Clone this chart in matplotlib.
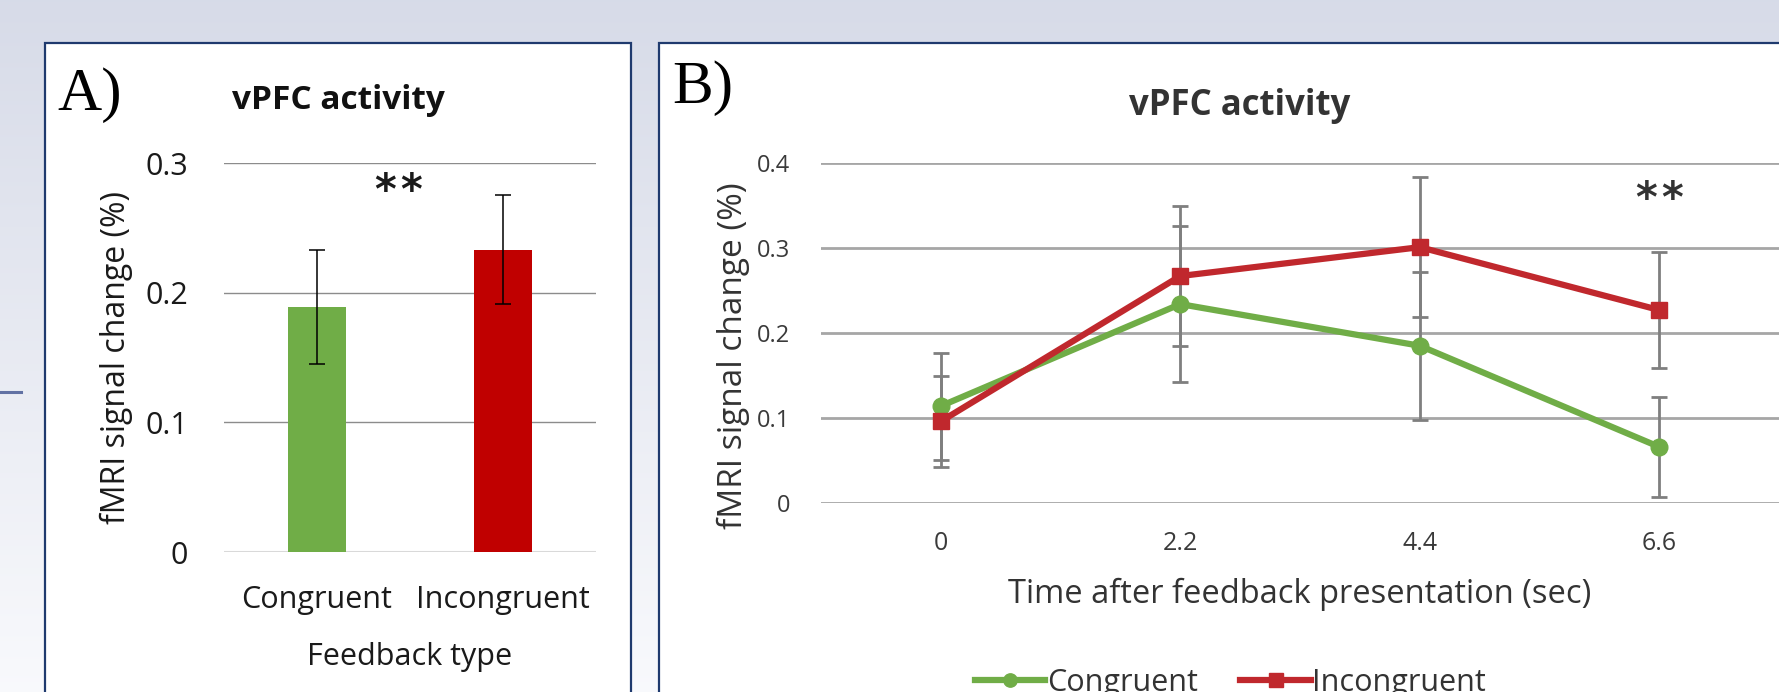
import numpy as np
import matplotlib
matplotlib.use("Agg")
from matplotlib import pyplot as plt
from matplotlib.patches import Rectangle
from matplotlib.lines import Line2D

W, H = 1779, 692

# panel A: bar chart
categories_a = ['Congruent', 'Incongruent']
values_a = [0.189, 0.233]
errors_a = [0.044, 0.042]

# panel B: time course
times = [0, 2.2, 4.4, 6.6]
time_labels = ['0', '2.2', '4.4', '6.6']
congruent = [0.114, 0.234, 0.185, 0.066]
congruent_err = [0.063, 0.092, 0.087, 0.059]
incongruent = [0.096, 0.267, 0.301, 0.227]
incongruent_err = [0.054, 0.082, 0.082, 0.068]

GREEN = '#70ad47'
RED_BAR = '#c00000'
RED_LINE = '#c0282d'
NAVY = '#1f3a6e'

plt.rcParams['font.family'] = ['Open Sans', 'DejaVu Sans']


def rect(x0, y0, x1, y1):
    # pixel box (top-left origin) -> figure fraction
    return [x0 / W, 1 - y1 / H, (x1 - x0) / W, (y1 - y0) / H]


def fx(x):
    return x / W


def fy(y):
    return 1 - y / H


def stars(ax, x, y, color):
    # two asterisks with a small gap, centred on (x, y)
    for dx in (-9.5, 9.5):
        ax.annotate('*', xy=(x, y), xytext=(dx, 0), textcoords='offset points',
                    ha='center', va='center', fontsize=30, family='DejaVu Sans',
                    fontweight='bold', color=color, annotation_clip=False)


fig = plt.figure(figsize=(W / 100, H / 100), dpi=100)

# background gradient
bg = fig.add_axes([0, 0, 1, 1], zorder=-10)
top = np.array([0.843, 0.859, 0.910])
bot = np.array([0.975, 0.978, 0.990])
t = np.linspace(0, 1, 256)[:, None, None]
grad = top * (1 - t) + bot * t
grad = np.repeat(grad, 4, axis=1)
bg.imshow(grad, aspect='auto', extent=[0, 1, 0, 1])
bg.set_axis_off()

# panel frames
for x0, x1 in [(45, 631), (659, 1800)]:
    fig.patches.append(Rectangle((fx(x0), fy(720)), fx(x1) - fx(x0), fy(43) - fy(720),
                                 transform=fig.transFigure, facecolor='white',
                                 edgecolor=NAVY, linewidth=1.6, zorder=-5))
fig.lines.append(Line2D([0, fx(21)], [fy(392), fy(392)], transform=fig.transFigure,
                        color='#6171a3', linewidth=2.2, zorder=-4))

# ---- panel A ----
axa = fig.add_axes(rect(224, 163, 596, 552))
axa.set_facecolor('none')
xa = np.arange(len(categories_a))
axa.bar(xa, values_a, width=0.31, color=[GREEN, RED_BAR], zorder=2)
axa.errorbar(xa, values_a, yerr=errors_a, fmt='none', ecolor='black',
             elinewidth=1.1, capsize=5.5, capthick=1.1, zorder=3)
axa.set_xlim(-0.5, 1.5)
axa.set_ylim(0, 0.3)
axa.set_yticks([0, 0.1, 0.2, 0.3])
axa.set_yticklabels(['0', '0.1', '0.2', '0.3'])
axa.set_xticks(xa)
axa.set_xticklabels(categories_a)
axa.yaxis.grid(True, color='#8c8c8c', linewidth=1.0)
axa.set_axisbelow(True)
for s in axa.spines.values():
    s.set_visible(False)
axa.axhline(0, color='#d9d9d9', linewidth=1.5, zorder=1)
axa.tick_params(length=0, labelsize=22, colors='#1a1a1a')
axa.tick_params(axis='y', pad=26)
axa.tick_params(axis='x', pad=24)
axa.set_xlabel('Feedback type', fontsize=22, color='#1a1a1a', labelpad=19)
axa.set_ylabel('fMRI signal change (%)', fontsize=23, color='#1a1a1a', labelpad=9)
stars(axa, 0.435, 0.278, '#1a1a1a')

fig.text(fx(57), fy(110), 'A)', family='Liberation Serif', fontsize=44, va='baseline')
fig.text(fx(338), fy(109), 'vPFC activity', fontsize=24, fontweight='bold',
         ha='center', va='baseline', color='#111111')

# ---- panel B ----
axb = fig.add_axes(rect(821, 163, 1779, 503))
axb.set_facecolor('none')
axb.errorbar(times, congruent, yerr=congruent_err, fmt='none', ecolor='#7f7f7f',
             elinewidth=2.0, capsize=6, capthick=2.0, zorder=2)
axb.errorbar(times, incongruent, yerr=incongruent_err, fmt='none', ecolor='#7f7f7f',
             elinewidth=2.0, capsize=6, capthick=2.0, zorder=2)
axb.plot(times, congruent, color=GREEN, linewidth=4.5, marker='o', markersize=12,
         label='Congruent', zorder=3)
axb.plot(times, incongruent, color=RED_LINE, linewidth=4.5, marker='s', markersize=12,
         label='Incongruent', zorder=4)
axb.set_xlim(-1.1, 7.7)
axb.set_ylim(0, 0.4)
axb.set_yticks([0, 0.1, 0.2, 0.3, 0.4])
axb.set_yticklabels(['0', '0.1', '0.2', '0.3', '0.4'])
axb.set_xticks(times)
axb.set_xticklabels(time_labels)
axb.yaxis.grid(True, color='#a6a6a6', linewidth=2.0)
axb.set_axisbelow(True)
for s in axb.spines.values():
    s.set_visible(False)
axb.tick_params(length=0, colors='#3a3a3a')
axb.tick_params(axis='y', pad=22, labelsize=17)
axb.tick_params(axis='x', pad=20, labelsize=18)
axb.set_xlabel('Time after feedback presentation (sec)', fontsize=23.5,
               color='#333333', labelpad=16)
axb.set_ylabel('fMRI signal change (%)', fontsize=24, color='#333333',
               labelpad=5, y=0.432)
stars(axb, 6.6, 0.357, '#333333')
fig.legend(handles=axb.get_lines()[-2:], loc='center left',
           bbox_to_anchor=(fx(975), fy(683)), frameon=False, fontsize=22,
           ncol=2, handlelength=2.3, handletextpad=0.05, columnspacing=1.4,
           borderpad=0, borderaxespad=0, numpoints=1, markerscale=0.8,
           labelcolor='#333333')

fig.text(fx(672), fy(103), 'B)', family='Liberation Serif', fontsize=44, va='baseline')
fig.text(fx(1240), fy(115), 'vPFC activity', fontsize=25, fontweight='bold',
         ha='center', va='baseline', color='#333333')

fig.savefig('out.png', dpi=100)
